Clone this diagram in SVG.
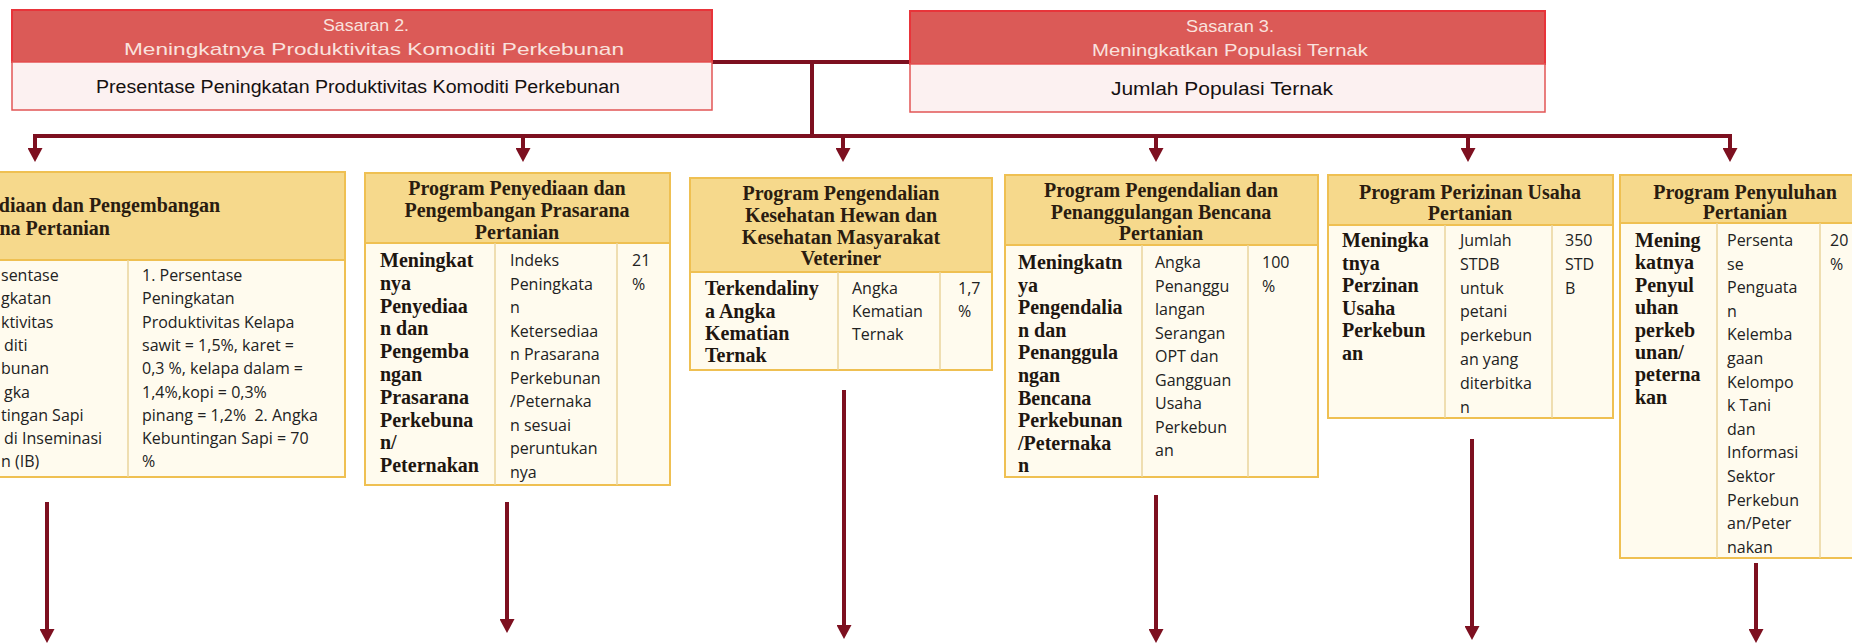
<svg xmlns="http://www.w3.org/2000/svg" width="1852" height="644" viewBox="0 0 1852 644">
<style>
.sh{fill:#db5a57;stroke:#e8343a;stroke-width:2}
.sw{fill:#fcf1f1;stroke:#e25555;stroke-width:1.5}
.st{font-family:"Liberation Sans Narrow","Liberation Sans",sans-serif;font-size:17px;fill:#f9e2de;text-anchor:middle}
.sb{font-family:"Liberation Sans Narrow","Liberation Sans",sans-serif;font-size:18px;fill:#151010;text-anchor:middle}
.ph{fill:#f6d98c;stroke:#efc052;stroke-width:2}
.pb{fill:#fffbee;stroke:#efc052;stroke-width:2}
.dv{stroke:#ead49c;stroke-width:1.5}
.hd{font-family:"Liberation Serif",serif;font-weight:bold;font-size:20px;fill:#2a1c10;text-anchor:middle}
.bd{font-family:"Liberation Serif",serif;font-weight:bold;font-size:20px;fill:#1e1610}
.tx{font-family:"Open Sans",sans-serif;font-size:16px;fill:#222}
.cn{stroke:#7d1020;stroke-width:4;fill:none}
</style>
<defs>
<marker id="ah" viewBox="0 0 14 15" refX="0" refY="7.5" markerUnits="userSpaceOnUse" markerWidth="14" markerHeight="15" orient="auto">
<path d="M0,0 L14,7.5 L0,15 z" fill="#7d1020"/>
</marker>
</defs>
<rect width="1852" height="644" fill="#ffffff"/>

<g id="connectors">
<line class="cn" x1="712" y1="62" x2="910" y2="62"/>
<line class="cn" x1="812" y1="62" x2="812" y2="136"/>
<line class="cn" x1="33" y1="136" x2="1732" y2="136"/>
<line class="cn" x1="35" y1="134" x2="35" y2="148" marker-end="url(#ah)"/>
<line class="cn" x1="523" y1="136" x2="523" y2="148" marker-end="url(#ah)"/>
<line class="cn" x1="843" y1="136" x2="843" y2="148" marker-end="url(#ah)"/>
<line class="cn" x1="1156" y1="136" x2="1156" y2="148" marker-end="url(#ah)"/>
<line class="cn" x1="1468" y1="136" x2="1468" y2="148" marker-end="url(#ah)"/>
<line class="cn" x1="1730" y1="134" x2="1730" y2="148" marker-end="url(#ah)"/>
<line class="cn" x1="47" y1="502" x2="47" y2="629" marker-end="url(#ah)"/>
<line class="cn" x1="507" y1="502" x2="507" y2="619" marker-end="url(#ah)"/>
<line class="cn" x1="844" y1="390" x2="844" y2="625" marker-end="url(#ah)"/>
<line class="cn" x1="1156" y1="495" x2="1156" y2="629" marker-end="url(#ah)"/>
<line class="cn" x1="1472" y1="439" x2="1472" y2="626" marker-end="url(#ah)"/>
<line class="cn" x1="1756" y1="563" x2="1756" y2="629" marker-end="url(#ah)"/>
</g>

<g id="sasaran2">
<rect class="sh" x="12" y="10" width="700" height="52"/>
<rect class="sw" x="12" y="62" width="700" height="48"/>
<text class="st" x="366" y="31" textLength="86" lengthAdjust="spacingAndGlyphs">Sasaran 2.</text>
<text class="st" x="374" y="55" textLength="500" lengthAdjust="spacingAndGlyphs">Meningkatnya Produktivitas Komoditi Perkebunan</text>
<text class="sb" x="358" y="93" textLength="524" lengthAdjust="spacingAndGlyphs">Presentase Peningkatan Produktivitas Komoditi Perkebunan</text>
</g>

<g id="sasaran3">
<rect class="sh" x="910" y="11" width="635" height="53"/>
<rect class="sw" x="910" y="64" width="635" height="48"/>
<text class="st" x="1230" y="32" textLength="88" lengthAdjust="spacingAndGlyphs">Sasaran 3.</text>
<text class="st" x="1230" y="56" textLength="276" lengthAdjust="spacingAndGlyphs">Meningkatkan Populasi Ternak</text>
<text class="sb" x="1222" y="95" textLength="222" lengthAdjust="spacingAndGlyphs">Jumlah Populasi Ternak</text>
</g>

<g id="program1">
<rect class="ph" x="-300" y="172" width="645" height="88"/>
<rect class="pb" x="-300" y="260" width="645" height="217"/>
<line class="dv" x1="128" y1="260" x2="128" y2="477"/>
<text class="hd" x="220" y="212" style="text-anchor:end">diaan dan Pengembangan</text>
<text class="hd" x="110" y="235" style="text-anchor:end">na Pertanian</text>
<text class="tx"><tspan x="1" y="281">sentase</tspan><tspan x="1" y="304.3">gkatan</tspan><tspan x="1" y="327.6">ktivitas</tspan><tspan x="4" y="350.9">diti</tspan><tspan x="1" y="374.2">bunan</tspan><tspan x="4" y="397.5">gka</tspan><tspan x="1" y="420.8">tingan Sapi</tspan><tspan x="4" y="444.1">di Inseminasi</tspan><tspan x="1" y="467.4">n (IB)</tspan></text>
<text class="tx"><tspan x="142" y="281">1. Persentase</tspan><tspan x="142" y="304.3">Peningkatan</tspan><tspan x="142" y="327.6">Produktivitas Kelapa</tspan><tspan x="142" y="350.9">sawit = 1,5%, karet =</tspan><tspan x="142" y="374.2">0,3 %, kelapa dalam =</tspan><tspan x="142" y="397.5">1,4%,kopi = 0,3%</tspan><tspan x="142" y="420.8">pinang = 1,2%&#160; 2. Angka</tspan><tspan x="142" y="444.1">Kebuntingan Sapi = 70</tspan><tspan x="142" y="467.4">%</tspan></text>
</g>

<g id="program2">
<rect class="ph" x="365" y="173" width="305" height="70"/>
<rect class="pb" x="365" y="243" width="305" height="242"/>
<line class="dv" x1="495" y1="243" x2="495" y2="485"/>
<line class="dv" x1="617" y1="243" x2="617" y2="485"/>
<text class="hd"><tspan x="517" y="195">Program Penyediaan dan</tspan><tspan x="517" y="217">Pengembangan Prasarana</tspan><tspan x="517" y="239">Pertanian</tspan></text>
<text class="bd"><tspan x="380" y="267">Meningkat</tspan><tspan x="380" y="289.8">nya</tspan><tspan x="380" y="312.6">Penyediaa</tspan><tspan x="380" y="335.4">n dan</tspan><tspan x="380" y="358.2">Pengemba</tspan><tspan x="380" y="381">ngan</tspan><tspan x="380" y="403.8">Prasarana</tspan><tspan x="380" y="426.6">Perkebuna</tspan><tspan x="380" y="449.4">n/</tspan><tspan x="380" y="472.2">Peternakan</tspan></text>
<text class="tx"><tspan x="510" y="266">Indeks</tspan><tspan x="510" y="289.5">Peningkata</tspan><tspan x="510" y="313">n</tspan><tspan x="510" y="336.5">Ketersediaa</tspan><tspan x="510" y="360">n Prasarana</tspan><tspan x="510" y="383.5">Perkebunan</tspan><tspan x="510" y="407">/Peternaka</tspan><tspan x="510" y="430.5">n sesuai</tspan><tspan x="510" y="454">peruntukan</tspan><tspan x="510" y="477.5">nya</tspan></text>
<text class="tx"><tspan x="632" y="266">21</tspan><tspan x="632" y="289.5">%</tspan></text>
</g>

<g id="program3">
<rect class="ph" x="690" y="178" width="302" height="94"/>
<rect class="pb" x="690" y="272" width="302" height="98"/>
<line class="dv" x1="838" y1="272" x2="838" y2="370"/>
<line class="dv" x1="940" y1="272" x2="940" y2="370"/>
<text class="hd"><tspan x="841" y="200">Program Pengendalian</tspan><tspan x="841" y="222">Kesehatan Hewan dan</tspan><tspan x="841" y="244">Kesehatan Masyarakat</tspan><tspan x="841" y="265">Veteriner</tspan></text>
<text class="bd"><tspan x="705" y="295">Terkendaliny</tspan><tspan x="705" y="317.5">a Angka</tspan><tspan x="705" y="340">Kematian</tspan><tspan x="705" y="362">Ternak</tspan></text>
<text class="tx"><tspan x="852" y="294">Angka</tspan><tspan x="852" y="317">Kematian</tspan><tspan x="852" y="340">Ternak</tspan></text>
<text class="tx"><tspan x="958" y="294">1,7</tspan><tspan x="958" y="317">%</tspan></text>
</g>

<g id="program4">
<rect class="ph" x="1005" y="175" width="313" height="70"/>
<rect class="pb" x="1005" y="245" width="313" height="232"/>
<line class="dv" x1="1142" y1="245" x2="1142" y2="477"/>
<line class="dv" x1="1248" y1="245" x2="1248" y2="477"/>
<text class="hd"><tspan x="1161" y="197">Program Pengendalian dan</tspan><tspan x="1161" y="219">Penanggulangan Bencana</tspan><tspan x="1161" y="240">Pertanian</tspan></text>
<text class="bd"><tspan x="1018" y="269">Meningkatn</tspan><tspan x="1018" y="291.6">ya</tspan><tspan x="1018" y="314.2">Pengendalia</tspan><tspan x="1018" y="336.8">n dan</tspan><tspan x="1018" y="359.4">Penanggula</tspan><tspan x="1018" y="382">ngan</tspan><tspan x="1018" y="404.6">Bencana</tspan><tspan x="1018" y="427.2">Perkebunan</tspan><tspan x="1018" y="449.8">/Peternaka</tspan><tspan x="1018" y="472.4">n</tspan></text>
<text class="tx"><tspan x="1155" y="268">Angka</tspan><tspan x="1155" y="291.5">Penanggu</tspan><tspan x="1155" y="315">langan</tspan><tspan x="1155" y="338.5">Serangan</tspan><tspan x="1155" y="362">OPT dan</tspan><tspan x="1155" y="385.5">Gangguan</tspan><tspan x="1155" y="409">Usaha</tspan><tspan x="1155" y="432.5">Perkebun</tspan><tspan x="1155" y="456">an</tspan></text>
<text class="tx"><tspan x="1262" y="268">100</tspan><tspan x="1262" y="291.5">%</tspan></text>
</g>

<g id="program5">
<rect class="ph" x="1328" y="175" width="285" height="50"/>
<rect class="pb" x="1328" y="225" width="285" height="193"/>
<line class="dv" x1="1445" y1="225" x2="1445" y2="418"/>
<line class="dv" x1="1552" y1="225" x2="1552" y2="418"/>
<text class="hd"><tspan x="1470" y="199">Program Perizinan Usaha</tspan><tspan x="1470" y="220">Pertanian</tspan></text>
<text class="bd"><tspan x="1342" y="247">Meningka</tspan><tspan x="1342" y="269.6">tnya</tspan><tspan x="1342" y="292.2">Perzinan</tspan><tspan x="1342" y="314.8">Usaha</tspan><tspan x="1342" y="337.4">Perkebun</tspan><tspan x="1342" y="360">an</tspan></text>
<text class="tx"><tspan x="1460" y="246">Jumlah</tspan><tspan x="1460" y="269.8">STDB</tspan><tspan x="1460" y="293.6">untuk</tspan><tspan x="1460" y="317.4">petani</tspan><tspan x="1460" y="341.2">perkebun</tspan><tspan x="1460" y="365">an yang</tspan><tspan x="1460" y="388.8">diterbitka</tspan><tspan x="1460" y="412.6">n</tspan></text>
<text class="tx"><tspan x="1565" y="246">350</tspan><tspan x="1565" y="269.8">STD</tspan><tspan x="1565" y="293.6">B</tspan></text>
</g>

<g id="program6">
<rect class="ph" x="1620" y="175" width="250" height="48"/>
<rect class="pb" x="1620" y="223" width="250" height="335"/>
<line class="dv" x1="1717" y1="223" x2="1717" y2="558"/>
<line class="dv" x1="1820" y1="223" x2="1820" y2="558"/>
<text class="hd"><tspan x="1745" y="199">Program Penyuluhan</tspan><tspan x="1745" y="219">Pertanian</tspan></text>
<text class="bd"><tspan x="1635" y="247">Mening</tspan><tspan x="1635" y="269.4">katnya</tspan><tspan x="1635" y="291.8">Penyul</tspan><tspan x="1635" y="314.2">uhan</tspan><tspan x="1635" y="336.6">perkeb</tspan><tspan x="1635" y="359">unan/</tspan><tspan x="1635" y="381.4">peterna</tspan><tspan x="1635" y="403.8">kan</tspan></text>
<text class="tx"><tspan x="1727" y="246">Persenta</tspan><tspan x="1727" y="269.6">se</tspan><tspan x="1727" y="293.2">Penguata</tspan><tspan x="1727" y="316.8">n</tspan><tspan x="1727" y="340.4">Kelemba</tspan><tspan x="1727" y="364">gaan</tspan><tspan x="1727" y="387.6">Kelompo</tspan><tspan x="1727" y="411.2">k Tani</tspan><tspan x="1727" y="434.8">dan</tspan><tspan x="1727" y="458.4">Informasi</tspan><tspan x="1727" y="482">Sektor</tspan><tspan x="1727" y="505.6">Perkebun</tspan><tspan x="1727" y="529.2">an/Peter</tspan><tspan x="1727" y="552.8">nakan</tspan></text>
<text class="tx"><tspan x="1830" y="246">20</tspan><tspan x="1830" y="269.6">%</tspan></text>
</g>
</svg>
